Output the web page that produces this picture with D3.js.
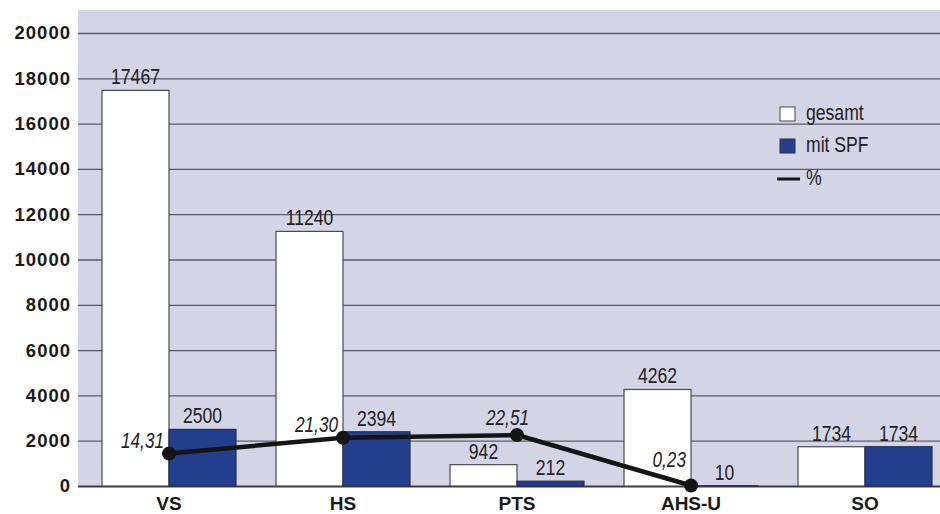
<!DOCTYPE html>
<html>
<head>
<meta charset="utf-8">
<script src="https://cdn.jsdelivr.net/npm/d3@7"></script>
<style>
  html, body { margin: 0; padding: 0; background: #ffffff; }
  svg { display: block; }
</style>
</head>
<body>
<svg id="chart" width="940" height="514"></svg>
<script>
// School types and pupil counts
const categories = ["VS", "HS", "PTS", "AHS-U", "SO"];
const gesamt = [17467, 11240, 942, 4262, 1734];
const mitSPF = [2500, 2394, 212, 10, 1734];
// Share (%) of pupils with SPF, drawn for the first four school types
const percentCats = ["VS", "HS", "PTS", "AHS-U"];
const percent = [14.31, 21.30, 22.51, 0.23];
const percentLabels = ["14,31", "21,30", "22,51", "0,23"];
const yTicks = [0, 2000, 4000, 6000, 8000, 10000, 12000, 14000, 16000, 18000, 20000];
const legendItems = ["gesamt", "mit SPF", "%"];

const plot = { left: 78, top: 10, right: 940, bottom: 487 };
const svg = d3.select("#chart");

const bg = "#d4d4e7", blue = "#233f8d", grid = "#5c5c68";
const sans = "'Liberation Sans', Arial, Helvetica, sans-serif";
const SQUEEZE = 0.8; // condensed look for the value / legend labels

const x = d3.scaleBand().domain(categories).range([82, 952])
  .paddingInner(0.23).paddingOuter(0.115);
const sub = d3.scaleBand().domain(["gesamt", "mitSPF"]).range([0, x.bandwidth()]);
const y = d3.scaleLinear().domain([0, 20000]).range([486, 33]);
const yPct = d3.scaleLinear().domain([0, 200]).range([486, 33]);

// condensed text placed at (px, py)
function narrowText(sel, px, py) {
  return sel.attr("transform", (d, i) => `translate(${px(d, i)},${py(d, i)}) scale(${SQUEEZE},1)`)
    .attr("font-family", sans).attr("fill", "#222");
}

// plot background
svg.append("rect")
  .attr("x", plot.left).attr("y", plot.top)
  .attr("width", plot.right - plot.left).attr("height", plot.bottom - plot.top)
  .attr("fill", bg);

// horizontal gridlines + y axis labels
const yAxis = d3.axisLeft(y).tickValues(yTicks).tickSize(0).tickPadding(7).tickFormat(d3.format("d"));
const gy = svg.append("g").attr("transform", `translate(${plot.left},0)`).call(yAxis);
gy.select(".domain").remove();
gy.selectAll(".tick text")
  .attr("font-family", sans).attr("font-weight", "bold").attr("font-size", 18.5)
  .attr("letter-spacing", "1px").attr("fill", "#1a1a1a");
gy.selectAll(".tick").append("line")
  .attr("x1", 0).attr("x2", plot.right - plot.left)
  .attr("stroke", d => d === 0 ? "#3a3a44" : grid)
  .attr("stroke-width", d => d === 0 ? 2 : 1.3);

// bars
const groups = svg.append("g").selectAll("g").data(categories).join("g")
  .attr("transform", d => `translate(${x(d)},0)`);

groups.append("rect")
  .attr("x", sub("gesamt")).attr("width", sub.bandwidth())
  .attr("y", (d, i) => y(gesamt[i])).attr("height", (d, i) => y(0) - y(gesamt[i]))
  .attr("fill", "#ffffff").attr("stroke", "#4a4a52").attr("stroke-width", 1.2);
groups.append("rect")
  .attr("x", sub("mitSPF")).attr("width", sub.bandwidth())
  .attr("y", (d, i) => y(mitSPF[i])).attr("height", (d, i) => y(0) - y(mitSPF[i]))
  .attr("fill", blue).attr("stroke", "#2a2f48").attr("stroke-width", 1.2);

// value labels
narrowText(groups.append("text"),
    () => sub("gesamt") + sub.bandwidth() / 2, (d, i) => y(gesamt[i]) - 6)
  .attr("text-anchor", "middle").attr("font-size", 22).text((d, i) => gesamt[i]);
narrowText(groups.append("text"),
    () => sub("mitSPF") + sub.bandwidth() / 2, (d, i) => y(mitSPF[i]) - 6)
  .attr("text-anchor", "middle").attr("font-size", 22).text((d, i) => mitSPF[i]);

// category axis labels
svg.append("g").selectAll("text").data(categories).join("text")
  .attr("x", d => x(d) + x.bandwidth() / 2).attr("y", 510)
  .attr("text-anchor", "middle").attr("font-family", sans).attr("font-weight", "bold")
  .attr("font-size", 19).attr("fill", "#1a1a1a").text(d => d);

// percentage line
const cx = c => x(c) + x.bandwidth() / 2;
const pts = percentCats.map((c, i) => [cx(c), yPct(percent[i])]);
svg.append("path")
  .attr("d", d3.line()(pts))
  .attr("fill", "none").attr("stroke", "#151515").attr("stroke-width", 4.5)
  .attr("stroke-linejoin", "round");
svg.append("g").selectAll("circle").data(pts).join("circle")
  .attr("cx", d => d[0]).attr("cy", d => d[1]).attr("r", 7).attr("fill", "#151515");
// labels sit above-left of each point; the PTS label is shifted right, the
// AHS-U label lifted clear of the baseline
narrowText(svg.append("g").selectAll("text").data(pts).join("text"),
    (d, i) => i === 2 ? d[0] + 12 : d[0] - 5,
    (d, i) => d[1] - (i === 3 ? 18 : i === 2 ? 10 : 6))
  .attr("text-anchor", "end").attr("font-style", "italic").attr("font-size", 21.5)
  .text((d, i) => percentLabels[i]);

// legend
const lg = svg.append("g");
lg.append("rect").attr("x", 780).attr("y", 107).attr("width", 15).attr("height", 14)
  .attr("fill", "#ffffff").attr("stroke", "#4a4a52").attr("stroke-width", 1);
lg.append("rect").attr("x", 780).attr("y", 139).attr("width", 15).attr("height", 14)
  .attr("fill", blue).attr("stroke", "#2a2f48").attr("stroke-width", 1);
lg.append("line").attr("x1", 777).attr("x2", 800).attr("y1", 179).attr("y2", 179)
  .attr("stroke", "#151515").attr("stroke-width", 3);
narrowText(lg.selectAll("text").data(legendItems).join("text"),
    () => 806, (d, i) => [120, 152, 185][i])
  .attr("font-size", 22).text(d => d);
</script>
</body>
</html>
